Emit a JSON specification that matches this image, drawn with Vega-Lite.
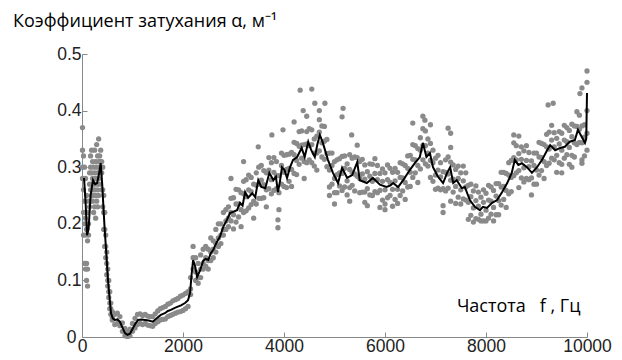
{
"$schema":"https://vega.github.io/schema/vega-lite/v6.json",
"width":505,"height":283,
"autosize":{"type":"none"},
"padding":{"left":82,"top":54,"right":35,"bottom":23},
"background":"white",
"title":{"text":"Коэффициент затухания α, м⁻¹","anchor":"start","frame":"group","font":"Open Sans","fontSize":18,"fontWeight":"normal","color":"#000","dx":-69,"offset":14},
"config":{"view":{"stroke":null},"axis":{"domainColor":"#888","tickColor":"#888","labelColor":"#222","labelFont":"Liberation Sans","labelFontSize":17.5,"grid":false}},
"datasets":{
"line":[
{"f":40,"a":0.281},{"f":70,"a":0.24},{"f":100,"a":0.18},{"f":130,"a":0.19},{"f":170,"a":0.25},{"f":218,"a":0.277},{"f":260,"a":0.27},{"f":300,"a":0.272},{"f":340,"a":0.29},{"f":370,"a":0.307},{"f":400,"a":0.27},{"f":430,"a":0.22},{"f":450,"a":0.189},{"f":480,"a":0.15},{"f":515,"a":0.10},{"f":545,"a":0.07},{"f":575,"a":0.042},{"f":610,"a":0.033},{"f":650,"a":0.030},{"f":700,"a":0.031},{"f":750,"a":0.027},{"f":800,"a":0.017},{"f":850,"a":0.007},{"f":900,"a":0.004},{"f":950,"a":0.006},{"f":1010,"a":0.016},{"f":1060,"a":0.024},{"f":1110,"a":0.030},{"f":1180,"a":0.031},{"f":1250,"a":0.030},{"f":1320,"a":0.029},{"f":1400,"a":0.027},{"f":1480,"a":0.033},{"f":1560,"a":0.039},{"f":1640,"a":0.042},{"f":1700,"a":0.046},{"f":1760,"a":0.048},{"f":1850,"a":0.052},{"f":1960,"a":0.056},{"f":2040,"a":0.060},{"f":2100,"a":0.065},{"f":2140,"a":0.078},{"f":2170,"a":0.11},{"f":2200,"a":0.136},{"f":2240,"a":0.125},{"f":2280,"a":0.106},{"f":2340,"a":0.118},{"f":2400,"a":0.135},{"f":2450,"a":0.138},{"f":2500,"a":0.136},{"f":2550,"a":0.148},{"f":2600,"a":0.154},{"f":2670,"a":0.168},{"f":2730,"a":0.177},{"f":2800,"a":0.195},{"f":2870,"a":0.207},{"f":2930,"a":0.219},{"f":2990,"a":0.221},{"f":3070,"a":0.224},{"f":3130,"a":0.237},{"f":3180,"a":0.232},{"f":3230,"a":0.256},{"f":3290,"a":0.246},{"f":3370,"a":0.254},{"f":3430,"a":0.247},{"f":3490,"a":0.277},{"f":3550,"a":0.265},{"f":3630,"a":0.263},{"f":3710,"a":0.29},{"f":3790,"a":0.277},{"f":3840,"a":0.283},{"f":3880,"a":0.256},{"f":3920,"a":0.275},{"f":3960,"a":0.30},{"f":4010,"a":0.295},{"f":4060,"a":0.281},{"f":4120,"a":0.30},{"f":4180,"a":0.313},{"f":4260,"a":0.318},{"f":4350,"a":0.334},{"f":4410,"a":0.318},{"f":4480,"a":0.345},{"f":4540,"a":0.33},{"f":4610,"a":0.318},{"f":4660,"a":0.34},{"f":4710,"a":0.357},{"f":4770,"a":0.343},{"f":4870,"a":0.313},{"f":4970,"a":0.29},{"f":5070,"a":0.272},{"f":5150,"a":0.299},{"f":5250,"a":0.281},{"f":5350,"a":0.286},{"f":5450,"a":0.309},{"f":5500,"a":0.277},{"f":5640,"a":0.272},{"f":5760,"a":0.281},{"f":5900,"a":0.269},{"f":6030,"a":0.265},{"f":6110,"a":0.268},{"f":6160,"a":0.272},{"f":6260,"a":0.265},{"f":6360,"a":0.277},{"f":6490,"a":0.295},{"f":6590,"a":0.307},{"f":6690,"a":0.318},{"f":6750,"a":0.343},{"f":6820,"a":0.318},{"f":6890,"a":0.325},{"f":6950,"a":0.30},{"f":7050,"a":0.283},{"f":7150,"a":0.272},{"f":7230,"a":0.29},{"f":7290,"a":0.30},{"f":7350,"a":0.272},{"f":7420,"a":0.277},{"f":7520,"a":0.263},{"f":7580,"a":0.265},{"f":7680,"a":0.242},{"f":7780,"a":0.23},{"f":7880,"a":0.224},{"f":7940,"a":0.23},{"f":8020,"a":0.228},{"f":8120,"a":0.237},{"f":8220,"a":0.242},{"f":8320,"a":0.256},{"f":8420,"a":0.272},{"f":8510,"a":0.29},{"f":8570,"a":0.313},{"f":8640,"a":0.304},{"f":8710,"a":0.307},{"f":8810,"a":0.30},{"f":8910,"a":0.29},{"f":9010,"a":0.30},{"f":9110,"a":0.313},{"f":9210,"a":0.33},{"f":9270,"a":0.339},{"f":9370,"a":0.33},{"f":9470,"a":0.334},{"f":9560,"a":0.336},{"f":9660,"a":0.345},{"f":9760,"a":0.348},{"f":9820,"a":0.366},{"f":9900,"a":0.353},{"f":9960,"a":0.343},{"f":9985,"a":0.35},{"f":10000,"a":0.431}
],
"pts":[
{"f":10,"a":0.37},{"f":10,"a":0.33},{"f":10,"a":0.30},{"f":10,"a":0.28},
{"f":30,"a":0.32},{"f":30,"a":0.26},{"f":30,"a":0.22},{"f":30,"a":0.18},
{"f":50,"a":0.30},{"f":50,"a":0.24},{"f":50,"a":0.20},{"f":50,"a":0.13},
{"f":70,"a":0.28},{"f":70,"a":0.21},{"f":70,"a":0.12},{"f":70,"a":0.18},
{"f":90,"a":0.25},{"f":90,"a":0.19},{"f":90,"a":0.13},{"f":90,"a":0.10},
{"f":110,"a":0.22},{"f":110,"a":0.17},{"f":110,"a":0.12},{"f":110,"a":0.09},
{"f":130,"a":0.24},{"f":130,"a":0.20},{"f":130,"a":0.18},
{"f":150,"a":0.27},{"f":150,"a":0.23},{"f":150,"a":0.29},
{"f":170,"a":0.30},{"f":170,"a":0.26},{"f":170,"a":0.24},{"f":170,"a":0.32},
{"f":190,"a":0.29},{"f":190,"a":0.27},{"f":190,"a":0.25},{"f":190,"a":0.33},
{"f":210,"a":0.31},{"f":210,"a":0.28},{"f":210,"a":0.26},{"f":210,"a":0.24},
{"f":230,"a":0.30},{"f":230,"a":0.27},{"f":230,"a":0.25},{"f":230,"a":0.22},
{"f":250,"a":0.33},{"f":250,"a":0.29},{"f":250,"a":0.26},{"f":250,"a":0.23},
{"f":270,"a":0.31},{"f":270,"a":0.28},{"f":270,"a":0.25},{"f":270,"a":0.21},
{"f":290,"a":0.34},{"f":290,"a":0.30},{"f":290,"a":0.27},{"f":290,"a":0.24},
{"f":310,"a":0.32},{"f":310,"a":0.29},{"f":310,"a":0.26},{"f":310,"a":0.23},
{"f":330,"a":0.35},{"f":330,"a":0.31},{"f":330,"a":0.28},{"f":330,"a":0.25},
{"f":350,"a":0.32},{"f":350,"a":0.30},{"f":350,"a":0.27},
{"f":370,"a":0.33},{"f":370,"a":0.31},{"f":370,"a":0.29},
{"f":390,"a":0.31},{"f":390,"a":0.29},{"f":390,"a":0.26},
{"f":410,"a":0.30},{"f":410,"a":0.26},{"f":410,"a":0.23},
{"f":430,"a":0.25},{"f":430,"a":0.22},{"f":430,"a":0.19},
{"f":450,"a":0.22},{"f":450,"a":0.19},{"f":450,"a":0.16},
{"f":470,"a":0.18},{"f":470,"a":0.16},{"f":470,"a":0.14},
{"f":490,"a":0.15},{"f":490,"a":0.13},{"f":490,"a":0.11},
{"f":510,"a":0.12},{"f":510,"a":0.10},{"f":510,"a":0.09},
{"f":530,"a":0.10},{"f":530,"a":0.08},{"f":530,"a":0.07},
{"f":550,"a":0.08},{"f":550,"a":0.06},{"f":550,"a":0.05},
{"f":570,"a":0.06},{"f":570,"a":0.05},{"f":570,"a":0.04},
{"f":600,"a":0.045},{"f":600,"a":0.035},{"f":600,"a":0.03},
{"f":650,"a":0.040},{"f":650,"a":0.022},{"f":700,"a":0.042},{"f":700,"a":0.024},{"f":750,"a":0.036},{"f":750,"a":0.020},{"f":800,"a":0.025},{"f":800,"a":0.010},{"f":850,"a":0.015},{"f":850,"a":0.002},{"f":900,"a":0.010},{"f":900,"a":0.001},{"f":950,"a":0.014},{"f":950,"a":0.002},{"f":1000,"a":0.024},{"f":1000,"a":0.010},{"f":1050,"a":0.033},{"f":1050,"a":0.016},{"f":1100,"a":0.040},{"f":1100,"a":0.022},{"f":1150,"a":0.041},{"f":1150,"a":0.024},{"f":1200,"a":0.038},{"f":1200,"a":0.022},{"f":1250,"a":0.040},{"f":1250,"a":0.024},{"f":1300,"a":0.037},{"f":1300,"a":0.021},{"f":1350,"a":0.036},{"f":1350,"a":0.020},{"f":1400,"a":0.036},{"f":1400,"a":0.019},{"f":1450,"a":0.041},{"f":1450,"a":0.024},{"f":1500,"a":0.046},{"f":1500,"a":0.027},{"f":1550,"a":0.050},{"f":1550,"a":0.030},{"f":1600,"a":0.052},{"f":1600,"a":0.031},{"f":1650,"a":0.054},{"f":1650,"a":0.032},{"f":1700,"a":0.058},{"f":1700,"a":0.036},{"f":1750,"a":0.060},{"f":1750,"a":0.038},{"f":1800,"a":0.064},{"f":1800,"a":0.040},{"f":1850,"a":0.066},{"f":1850,"a":0.042},{"f":1900,"a":0.068},{"f":1900,"a":0.044},{"f":1950,"a":0.072},{"f":1950,"a":0.045},{"f":2000,"a":0.074},{"f":2000,"a":0.047},{"f":2050,"a":0.077},{"f":2050,"a":0.050},{"f":2100,"a":0.080},{"f":2100,"a":0.054},
{"f":2150,"a":0.105},{"f":2150,"a":0.085},{"f":2150,"a":0.075},
{"f":2200,"a":0.16},{"f":2200,"a":0.14},{"f":2200,"a":0.12},
{"f":2250,"a":0.14},{"f":2250,"a":0.115},{"f":2250,"a":0.10},
{"f":2300,"a":0.13},{"f":2300,"a":0.105},{"f":2300,"a":0.095},
{"f":2350,"a":0.145},{"f":2350,"a":0.12},{"f":2350,"a":0.105},
{"f":2400,"a":0.155},{"f":2400,"a":0.13},{"f":2400,"a":0.12},
{"f":2450,"a":0.16},{"f":2450,"a":0.14},{"f":2450,"a":0.125},
{"f":2500,"a":0.155},{"f":2500,"a":0.135},{"f":2500,"a":0.12},
{"f":2550,"a":0.175},{"f":2550,"a":0.15},{"f":2550,"a":0.135},
{"f":2600,"a":0.17},{"f":2600,"a":0.155},{"f":2600,"a":0.14},
{"f":2650,"a":0.19},{"f":2650,"a":0.165},{"f":2650,"a":0.15},
{"f":2700,"a":0.20},{"f":2700,"a":0.175},{"f":2700,"a":0.16},
{"f":2750,"a":0.20},{"f":2750,"a":0.18},{"f":2750,"a":0.165},
{"f":2800,"a":0.22},{"f":2800,"a":0.19},{"f":2800,"a":0.18},
{"f":2850,"a":0.225},{"f":2850,"a":0.205},{"f":2850,"a":0.19},
{"f":2900,"a":0.23},{"f":2900,"a":0.21},{"f":2900,"a":0.195},
{"f":2950,"a":0.245},{"f":2950,"a":0.22},{"f":2950,"a":0.205},
{"f":3000,"a":0.246},{"f":3000,"a":0.216},{"f":3000,"a":0.191},
{"f":3050,"a":0.235},{"f":3050,"a":0.203},{"f":3050,"a":0.261},
{"f":3100,"a":0.26},{"f":3100,"a":0.235},{"f":3100,"a":0.212},
{"f":3150,"a":0.225},{"f":3150,"a":0.255},{"f":3150,"a":0.195},
{"f":3200,"a":0.253},{"f":3200,"a":0.22},{"f":3200,"a":0.275},
{"f":3250,"a":0.278},{"f":3250,"a":0.248},{"f":3250,"a":0.223},
{"f":3300,"a":0.26},{"f":3300,"a":0.228},{"f":3300,"a":0.286},
{"f":3350,"a":0.282},{"f":3350,"a":0.257},{"f":3350,"a":0.234},
{"f":3400,"a":0.24},{"f":3400,"a":0.27},{"f":3400,"a":0.21},
{"f":3450,"a":0.268},{"f":3450,"a":0.235},{"f":3450,"a":0.29},
{"f":3500,"a":0.30},{"f":3500,"a":0.27},{"f":3500,"a":0.245},
{"f":3550,"a":0.277},{"f":3550,"a":0.245},{"f":3550,"a":0.303},
{"f":3600,"a":0.294},{"f":3600,"a":0.269},{"f":3600,"a":0.246},
{"f":3650,"a":0.26},{"f":3650,"a":0.29},{"f":3650,"a":0.23},
{"f":3700,"a":0.295},{"f":3700,"a":0.262},{"f":3700,"a":0.317},
{"f":3750,"a":0.308},{"f":3750,"a":0.278},{"f":3750,"a":0.253},
{"f":3800,"a":0.291},{"f":3800,"a":0.259},{"f":3800,"a":0.317},
{"f":3850,"a":0.31},{"f":3850,"a":0.285},{"f":3850,"a":0.262},
{"f":3900,"a":0.255},{"f":3900,"a":0.285},{"f":3900,"a":0.225},
{"f":3950,"a":0.303},{"f":3950,"a":0.27},{"f":3950,"a":0.325},
{"f":4000,"a":0.321},{"f":4000,"a":0.291},{"f":4000,"a":0.266},
{"f":4050,"a":0.296},{"f":4050,"a":0.264},{"f":4050,"a":0.322},
{"f":4100,"a":0.323},{"f":4100,"a":0.298},{"f":4100,"a":0.275},
{"f":4150,"a":0.296},{"f":4150,"a":0.326},{"f":4150,"a":0.266},
{"f":4200,"a":0.322},{"f":4200,"a":0.289},{"f":4200,"a":0.344},
{"f":4250,"a":0.342},{"f":4250,"a":0.312},{"f":4250,"a":0.287},
{"f":4300,"a":0.337},{"f":4300,"a":0.305},{"f":4300,"a":0.363},
{"f":4350,"a":0.364},{"f":4350,"a":0.339},{"f":4350,"a":0.316},
{"f":4400,"a":0.31},{"f":4400,"a":0.34},{"f":4400,"a":0.28},
{"f":4450,"a":0.341},{"f":4450,"a":0.308},{"f":4450,"a":0.363},
{"f":4500,"a":0.368},{"f":4500,"a":0.338},{"f":4500,"a":0.313},
{"f":4550,"a":0.34},{"f":4550,"a":0.308},{"f":4550,"a":0.366},
{"f":4600,"a":0.35},{"f":4600,"a":0.325},{"f":4600,"a":0.302},
{"f":4650,"a":0.325},{"f":4650,"a":0.355},{"f":4650,"a":0.295},
{"f":4700,"a":0.362},{"f":4700,"a":0.329},{"f":4700,"a":0.384},
{"f":4750,"a":0.373},{"f":4750,"a":0.343},{"f":4750,"a":0.318},
{"f":4800,"a":0.346},{"f":4800,"a":0.314},{"f":4800,"a":0.372},
{"f":4850,"a":0.349},{"f":4850,"a":0.324},{"f":4850,"a":0.301},
{"f":4900,"a":0.295},{"f":4900,"a":0.325},{"f":4900,"a":0.265},
{"f":4950,"a":0.303},{"f":4950,"a":0.27},{"f":4950,"a":0.325},
{"f":5000,"a":0.31},{"f":5000,"a":0.28},{"f":5000,"a":0.255},
{"f":5050,"a":0.287},{"f":5050,"a":0.255},{"f":5050,"a":0.313},
{"f":5100,"a":0.315},{"f":5100,"a":0.29},{"f":5100,"a":0.267},
{"f":5150,"a":0.289},{"f":5150,"a":0.319},{"f":5150,"a":0.259},
{"f":5200,"a":0.298},{"f":5200,"a":0.265},{"f":5200,"a":0.32},
{"f":5250,"a":0.306},{"f":5250,"a":0.276},{"f":5250,"a":0.251},
{"f":5300,"a":0.296},{"f":5300,"a":0.264},{"f":5300,"a":0.322},
{"f":5350,"a":0.316},{"f":5350,"a":0.291},{"f":5350,"a":0.268},
{"f":5400,"a":0.288},{"f":5400,"a":0.318},{"f":5400,"a":0.258},
{"f":5450,"a":0.317},{"f":5450,"a":0.284},{"f":5450,"a":0.339},
{"f":5500,"a":0.31},{"f":5500,"a":0.28},{"f":5500,"a":0.255},
{"f":5550,"a":0.288},{"f":5550,"a":0.256},{"f":5550,"a":0.314},
{"f":5600,"a":0.304},{"f":5600,"a":0.279},{"f":5600,"a":0.256},
{"f":5650,"a":0.262},{"f":5650,"a":0.292},{"f":5650,"a":0.232},
{"f":5700,"a":0.284},{"f":5700,"a":0.251},{"f":5700,"a":0.306},
{"f":5750,"a":0.305},{"f":5750,"a":0.275},{"f":5750,"a":0.25},
{"f":5800,"a":0.289},{"f":5800,"a":0.257},{"f":5800,"a":0.315},
{"f":5850,"a":0.303},{"f":5850,"a":0.278},{"f":5850,"a":0.255},
{"f":5900,"a":0.259},{"f":5900,"a":0.289},{"f":5900,"a":0.229},
{"f":5950,"a":0.275},{"f":5950,"a":0.242},{"f":5950,"a":0.297},
{"f":6000,"a":0.29},{"f":6000,"a":0.26},{"f":6000,"a":0.235},
{"f":6050,"a":0.278},{"f":6050,"a":0.246},{"f":6050,"a":0.304},
{"f":6100,"a":0.298},{"f":6100,"a":0.273},{"f":6100,"a":0.25},
{"f":6150,"a":0.261},{"f":6150,"a":0.291},{"f":6150,"a":0.231},
{"f":6200,"a":0.276},{"f":6200,"a":0.243},{"f":6200,"a":0.298},
{"f":6250,"a":0.291},{"f":6250,"a":0.261},{"f":6250,"a":0.236},
{"f":6300,"a":0.282},{"f":6300,"a":0.25},{"f":6300,"a":0.308},
{"f":6350,"a":0.306},{"f":6350,"a":0.281},{"f":6350,"a":0.258},
{"f":6400,"a":0.273},{"f":6400,"a":0.303},{"f":6400,"a":0.243},
{"f":6450,"a":0.298},{"f":6450,"a":0.265},{"f":6450,"a":0.32},
{"f":6500,"a":0.321},{"f":6500,"a":0.291},{"f":6500,"a":0.266},
{"f":6550,"a":0.314},{"f":6550,"a":0.282},{"f":6550,"a":0.34},
{"f":6600,"a":0.338},{"f":6600,"a":0.313},{"f":6600,"a":0.29},
{"f":6650,"a":0.303},{"f":6650,"a":0.333},{"f":6650,"a":0.273},
{"f":6700,"a":0.33},{"f":6700,"a":0.297},{"f":6700,"a":0.352},
{"f":6750,"a":0.368},{"f":6750,"a":0.338},{"f":6750,"a":0.313},
{"f":6800,"a":0.338},{"f":6800,"a":0.306},{"f":6800,"a":0.364},
{"f":6850,"a":0.35},{"f":6850,"a":0.325},{"f":6850,"a":0.302},
{"f":6900,"a":0.312},{"f":6900,"a":0.342},{"f":6900,"a":0.282},
{"f":6950,"a":0.308},{"f":6950,"a":0.275},{"f":6950,"a":0.33},
{"f":7000,"a":0.316},{"f":7000,"a":0.286},{"f":7000,"a":0.261},
{"f":7050,"a":0.295},{"f":7050,"a":0.263},{"f":7050,"a":0.321},
{"f":7100,"a":0.308},{"f":7100,"a":0.283},{"f":7100,"a":0.26},
{"f":7150,"a":0.262},{"f":7150,"a":0.292},{"f":7150,"a":0.232},
{"f":7200,"a":0.291},{"f":7200,"a":0.258},{"f":7200,"a":0.313},
{"f":7250,"a":0.318},{"f":7250,"a":0.288},{"f":7250,"a":0.263},
{"f":7300,"a":0.309},{"f":7300,"a":0.277},{"f":7300,"a":0.335},
{"f":7350,"a":0.304},{"f":7350,"a":0.279},{"f":7350,"a":0.256},
{"f":7400,"a":0.266},{"f":7400,"a":0.296},{"f":7400,"a":0.236},
{"f":7450,"a":0.28},{"f":7450,"a":0.247},{"f":7450,"a":0.302},
{"f":7500,"a":0.29},{"f":7500,"a":0.26},{"f":7500,"a":0.235},
{"f":7550,"a":0.276},{"f":7550,"a":0.244},{"f":7550,"a":0.302},
{"f":7600,"a":0.29},{"f":7600,"a":0.265},{"f":7600,"a":0.242},
{"f":7650,"a":0.238},{"f":7650,"a":0.268},{"f":7650,"a":0.208},
{"f":7700,"a":0.248},{"f":7700,"a":0.215},{"f":7700,"a":0.27},
{"f":7750,"a":0.258},{"f":7750,"a":0.228},{"f":7750,"a":0.203},
{"f":7800,"a":0.241},{"f":7800,"a":0.209},{"f":7800,"a":0.267},
{"f":7850,"a":0.256},{"f":7850,"a":0.231},{"f":7850,"a":0.208},
{"f":7900,"a":0.217},{"f":7900,"a":0.247},{"f":7900,"a":0.205},
{"f":7950,"a":0.238},{"f":7950,"a":0.205},{"f":7950,"a":0.26},
{"f":8000,"a":0.254},{"f":8000,"a":0.224},{"f":8000,"a":0.205},
{"f":8050,"a":0.242},{"f":8050,"a":0.21},{"f":8050,"a":0.268},
{"f":8100,"a":0.265},{"f":8100,"a":0.24},{"f":8100,"a":0.217},
{"f":8150,"a":0.229},{"f":8150,"a":0.259},{"f":8150,"a":0.205},
{"f":8200,"a":0.249},{"f":8200,"a":0.216},{"f":8200,"a":0.271},
{"f":8250,"a":0.271},{"f":8250,"a":0.241},{"f":8250,"a":0.216},
{"f":8300,"a":0.265},{"f":8300,"a":0.233},{"f":8300,"a":0.291},
{"f":8350,"a":0.291},{"f":8350,"a":0.266},{"f":8350,"a":0.243},
{"f":8400,"a":0.259},{"f":8400,"a":0.289},{"f":8400,"a":0.229},
{"f":8450,"a":0.286},{"f":8450,"a":0.253},{"f":8450,"a":0.308},
{"f":8500,"a":0.312},{"f":8500,"a":0.282},{"f":8500,"a":0.257},
{"f":8550,"a":0.317},{"f":8550,"a":0.285},{"f":8550,"a":0.343},
{"f":8600,"a":0.338},{"f":8600,"a":0.313},{"f":8600,"a":0.29},
{"f":8650,"a":0.294},{"f":8650,"a":0.324},{"f":8650,"a":0.264},
{"f":8700,"a":0.314},{"f":8700,"a":0.281},{"f":8700,"a":0.336},
{"f":8750,"a":0.329},{"f":8750,"a":0.299},{"f":8750,"a":0.274},
{"f":8800,"a":0.312},{"f":8800,"a":0.28},{"f":8800,"a":0.338},
{"f":8850,"a":0.326},{"f":8850,"a":0.301},{"f":8850,"a":0.278},
{"f":8900,"a":0.281},{"f":8900,"a":0.311},{"f":8900,"a":0.251},
{"f":8950,"a":0.303},{"f":8950,"a":0.27},{"f":8950,"a":0.325},
{"f":9000,"a":0.325},{"f":9000,"a":0.295},{"f":9000,"a":0.27},
{"f":9050,"a":0.318},{"f":9050,"a":0.286},{"f":9050,"a":0.344},
{"f":9100,"a":0.342},{"f":9100,"a":0.317},{"f":9100,"a":0.294},
{"f":9150,"a":0.31},{"f":9150,"a":0.34},{"f":9150,"a":0.28},
{"f":9200,"a":0.336},{"f":9200,"a":0.303},{"f":9200,"a":0.358},
{"f":9250,"a":0.362},{"f":9250,"a":0.332},{"f":9250,"a":0.307},
{"f":9300,"a":0.348},{"f":9300,"a":0.316},{"f":9300,"a":0.374},
{"f":9350,"a":0.361},{"f":9350,"a":0.336},{"f":9350,"a":0.313},
{"f":9400,"a":0.321},{"f":9400,"a":0.351},{"f":9400,"a":0.291},
{"f":9450,"a":0.341},{"f":9450,"a":0.308},{"f":9450,"a":0.363},
{"f":9500,"a":0.36},{"f":9500,"a":0.33},{"f":9500,"a":0.305},
{"f":9550,"a":0.348},{"f":9550,"a":0.316},{"f":9550,"a":0.374},
{"f":9600,"a":0.37},{"f":9600,"a":0.345},{"f":9600,"a":0.322},
{"f":9650,"a":0.335},{"f":9650,"a":0.365},{"f":9650,"a":0.305},
{"f":9700,"a":0.354},{"f":9700,"a":0.321},{"f":9700,"a":0.376},
{"f":9750,"a":0.373},{"f":9750,"a":0.343},{"f":9750,"a":0.318},
{"f":9800,"a":0.372},{"f":9800,"a":0.34},{"f":9800,"a":0.398},
{"f":9850,"a":0.392},{"f":9850,"a":0.367},{"f":9850,"a":0.344},
{"f":9900,"a":0.343},{"f":9900,"a":0.373},{"f":9900,"a":0.313},
{"f":9950,"a":0.353},{"f":9950,"a":0.32},{"f":9950,"a":0.375},
{"f":10000,"a":0.36},{"f":10000,"a":0.40},{"f":10000,"a":0.45},{"f":10000,"a":0.47},{"f":10000,"a":0.33},
{"f":4320,"a":0.436},{"f":4550,"a":0.438},{"f":4610,"a":0.413},{"f":4810,"a":0.413},{"f":4380,"a":0.40},{"f":5170,"a":0.404},{"f":5150,"a":0.389},{"f":3880,"a":0.207},{"f":3880,"a":0.193},{"f":4200,"a":0.38},{"f":4450,"a":0.39},{"f":4700,"a":0.40},{"f":3760,"a":0.357},{"f":3980,"a":0.366},{"f":3490,"a":0.336},{"f":3200,"a":0.31},{"f":2950,"a":0.28},{"f":6790,"a":0.383},{"f":6750,"a":0.39},{"f":7250,"a":0.369},{"f":7300,"a":0.36},{"f":6900,"a":0.375},{"f":6550,"a":0.378},{"f":5340,"a":0.357},{"f":7300,"a":0.24},{"f":7150,"a":0.22},{"f":5000,"a":0.235},{"f":5300,"a":0.24},{"f":5600,"a":0.238},{"f":8550,"a":0.357},{"f":8650,"a":0.355},{"f":9230,"a":0.41},{"f":9330,"a":0.413},{"f":9860,"a":0.43},{"f":9900,"a":0.44},{"f":9500,"a":0.29},{"f":9700,"a":0.30},{"f":9900,"a":0.307},{"f":4900,"a":0.25},{"f":6000,"a":0.225}
]
},
"layer":[
{"data":{"name":"pts"},"mark":{"type":"circle","size":28,"color":"#8a8a8a","opacity":1},
"encoding":{
"x":{"field":"f","type":"quantitative","scale":{"domain":[0,10000],"nice":false},
"axis":{"values":[0,2000,4000,6000,8000,10000],"format":"d","tickSize":-5,"labelPadding":5,"labelFlush":false,"title":"Частота\u00a0\u00a0 f\u00a0, Гц","titleFont":"Open Sans","titleFontSize":18,"titleFontWeight":"normal","titleColor":"#000","titleX":498,"titleY":-26,"titleAlign":"right","titleAnchor":null,"titleBaseline":"alphabetic"}},
"y":{"field":"a","type":"quantitative","scale":{"domain":[0,0.5],"nice":false},
"axis":{"values":[0,0.1,0.2,0.3,0.4,0.5],"format":".1~f","tickSize":-5,"labelPadding":{"condition":{"test":"datum.value === 0","value":11},"value":6},"labelFlush":false,"title":null}}}},
{"data":{"name":"line"},"mark":{"type":"line","color":"#000","strokeWidth":2},
"encoding":{"x":{"field":"f","type":"quantitative"},"y":{"field":"a","type":"quantitative"}}}
]
}
